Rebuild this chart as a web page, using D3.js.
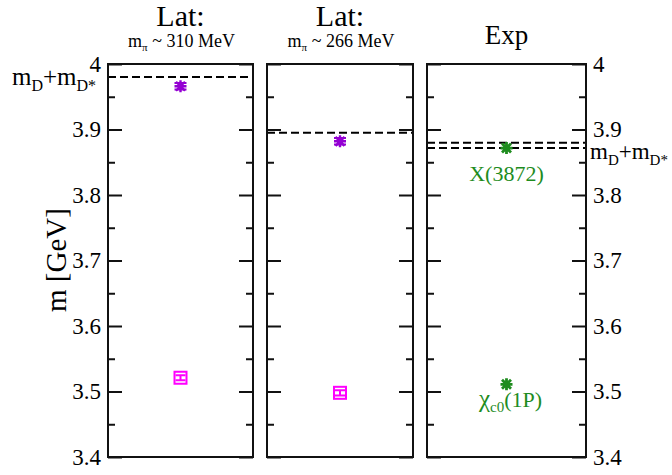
<!DOCTYPE html>
<html>
<head>
<meta charset="utf-8">
<script src="https://cdn.jsdelivr.net/npm/d3@7"></script>
<style>
  html, body { margin: 0; padding: 0; background: #fff; }
</style>
</head>
<body>
<svg id="chart" width="672" height="475"></svg>
<script>
// ---------- data ----------
const panelTitles = ["Lat:", "Lat:", "Exp"];
const pionMasses = ["310 MeV", "266 MeV", null];
const thresholds = [[3.980], [3.895], [3.8717, 3.8799]];   // m_D + m_D* (GeV)
const xStateMass = [3.966, 3.882, 3.8717];                 // star markers
const xStateErr = [0.005, 0.005, 0.0];
const chiMassLat = [3.521, 3.498, null];                   // open squares
const chiErrLat = [0.004, 0.004, null];
const chiMassExp = 3.511;                                  // exp star
const yTicksMajor = [3.4, 3.5, 3.6, 3.7, 3.8, 3.9, 4.0];
const yTicksMinor = [3.45, 3.55, 3.65, 3.75, 3.85, 3.95];
const yTickLabels = ["3.4", "3.5", "3.6", "3.7", "3.8", "3.9", "4"];

// ---------- layout ----------
const panelExtents = [[108, 253], [267, 413], [427, 586]];
const plotTop = 64, plotBottom = 457;
const purple = "#9400D3", magenta = "#FF00FF", green = "#1E8C1E";
const serif = "'Liberation Serif', 'DejaVu Serif', serif";

const svg = d3.select("#chart").attr("font-family", serif);
const y = d3.scaleLinear().domain([3.4, 4.0]).range([plotBottom, plotTop]);

function asterisk(g, cx, cy, r, color, sw) {
  const p = d3.path();
  p.moveTo(cx - r, cy); p.lineTo(cx + r, cy);
  p.moveTo(cx, cy - r); p.lineTo(cx, cy + r);
  const d = r * 0.75;
  p.moveTo(cx - d, cy - d); p.lineTo(cx + d, cy + d);
  p.moveTo(cx - d, cy + d); p.lineTo(cx + d, cy - d);
  g.append("path").attr("d", p.toString()).attr("stroke", color)
    .attr("stroke-width", sw).attr("fill", "none");
}
function errorBar(g, cx, v, e, capW, color) {
  const p = d3.path();
  p.moveTo(cx, y(v + e)); p.lineTo(cx, y(v - e));
  p.moveTo(cx - capW, y(v + e)); p.lineTo(cx + capW, y(v + e));
  p.moveTo(cx - capW, y(v - e)); p.lineTo(cx + capW, y(v - e));
  g.append("path").attr("d", p.toString()).attr("stroke", color)
    .attr("stroke-width", 2).attr("fill", "none");
}

panelExtents.forEach((ext, i) => {
  const x = d3.scaleLinear().domain([0, 1]).range(ext);
  const g = svg.append("g");
  const cx = x(0.5);

  thresholds[i].forEach(t => {
    g.append("line").attr("x1", x(0)).attr("x2", x(1))
      .attr("y1", y(t)).attr("y2", y(t))
      .attr("stroke", "#000").attr("stroke-width", 2)
      .attr("stroke-dasharray", "8,4");
  });

  const leftAxis = d3.axisRight(y).tickValues(yTicksMajor).tickSize(14).tickFormat("");
  const leftMinor = d3.axisRight(y).tickValues(yTicksMinor).tickSize(7).tickFormat("");
  const rightAxis = d3.axisLeft(y).tickValues(yTicksMajor).tickSize(14).tickFormat("");
  const rightMinor = d3.axisLeft(y).tickValues(yTicksMinor).tickSize(7).tickFormat("");
  [[leftAxis, ext[0]], [leftMinor, ext[0]], [rightAxis, ext[1]], [rightMinor, ext[1]]].forEach(([ax, px]) => {
    const a = g.append("g").attr("transform", `translate(${px},0)`).call(ax);
    a.select(".domain").remove();
    a.selectAll("line").attr("stroke", "#111").attr("stroke-width", 2);
  });

  g.append("rect").attr("x", x(0)).attr("y", y(4.0))
    .attr("width", x(1) - x(0)).attr("height", y(3.4) - y(4.0))
    .attr("fill", "none").attr("stroke", "#111").attr("stroke-width", 2);

  g.append("text").attr("x", cx).attr("text-anchor", "middle")
    .attr("y", pionMasses[i] ? 26 : 44)
    .attr("font-family", serif)
    .style("font-size", pionMasses[i] ? "30px" : "27px").text(panelTitles[i]);
  if (pionMasses[i]) {
    const st = g.append("text").attr("x", cx + 1).attr("y", 47)
      .attr("font-family", serif)
      .attr("text-anchor", "middle").style("font-size", "18px");
    st.append("tspan").text("m");
    st.append("tspan").attr("dy", 4).style("font-size", "11px").text("π");
    st.append("tspan").attr("dy", -4).text(" ~ " + pionMasses[i]);
  }

  if (i < 2) {
    errorBar(g, cx, xStateMass[i], xStateErr[i], 6, purple);
    asterisk(g, cx, y(xStateMass[i]), 6, purple, 2.4);
    const sy = y(chiMassLat[i]);
    g.append("rect").attr("x", cx - 6).attr("y", sy - 6).attr("width", 12).attr("height", 12)
      .attr("fill", "none").attr("stroke", magenta).attr("stroke-width", 2);
    errorBar(g, cx, chiMassLat[i], chiErrLat[i], 5, magenta);
  } else {
    asterisk(g, cx, y(xStateMass[i]), 6, green, 2.8);
    asterisk(g, cx, y(chiMassExp), 6, green, 2.8);
    g.append("text").attr("x", cx).attr("y", 181).attr("text-anchor", "middle")
      .attr("font-family", serif)
      .attr("fill", green).style("font-size", "22px").text("X(3872)");
    const ct = g.append("text").attr("x", cx + 4).attr("y", 407).attr("text-anchor", "middle")
      .attr("font-family", serif)
      .attr("fill", green).style("font-size", "22px");
    ct.append("tspan").style("font-size", "25px").text("χ");
    ct.append("tspan").attr("dy", 5).style("font-size", "15px").text("c0");
    ct.append("tspan").attr("dy", -5).text("(1P)");
  }
});

svg.append("g").selectAll("text").data(yTicksMajor).join("text")
  .attr("x", 101).attr("y", d => y(d)).attr("dy", "0.33em")
  .attr("font-family", serif)
  .attr("text-anchor", "end").style("font-size", "23px")
  .text((d, i) => yTickLabels[i]);
svg.append("g").selectAll("text").data(yTicksMajor).join("text")
  .attr("x", 593).attr("y", d => y(d)).attr("dy", "0.33em")
  .attr("font-family", serif)
  .attr("text-anchor", "start").style("font-size", "23px")
  .text((d, i) => yTickLabels[i]);

svg.append("text").attr("transform", "translate(66,260) rotate(-90)")
  .attr("font-family", serif)
  .attr("text-anchor", "middle").style("font-size", "29px").text("m [GeV]");

function thrLabel(xp, yp, size, subSize) {
  const t = svg.append("text").attr("x", xp).attr("y", yp)
    .attr("font-family", serif)
    .attr("text-anchor", "start").style("font-size", size + "px");
  t.append("tspan").text("m");
  t.append("tspan").attr("dy", 6).style("font-size", subSize + "px").text("D");
  t.append("tspan").attr("dy", -6).text("+m");
  t.append("tspan").attr("dy", 6).style("font-size", subSize + "px").text("D*");
}
thrLabel(12, 85, 25, 16);
thrLabel(590, 159, 23, 15);
</script>
</body>
</html>
